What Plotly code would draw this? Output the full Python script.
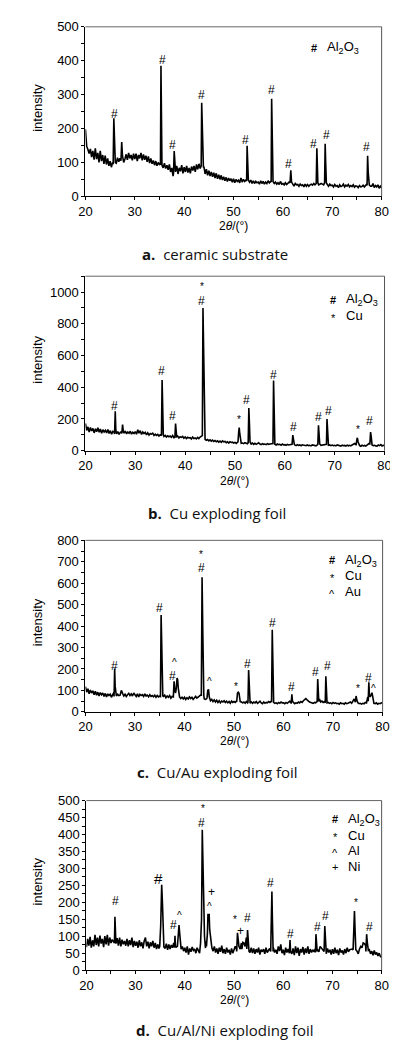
import numpy as np
import plotly.graph_objects as go

# ---------------- data ----------------
# background scans, 20..80 deg, equally spaced (0.25 deg)
BG_A = [198,148,138,126,140,116,134,108,
        142,110,128,100,134,104,122,96,
        120,94,112,90,104,86,100,110,
        106,98,114,102,112,104,122,100,
        110,124,108,128,112,122,106,126,
        110,126,104,122,112,128,106,124,
        108,120,102,118,98,112,96,106,
        92,104,90,100,94,88,96,84,
        98,82,92,78,94,72,84,60,
        88,72,90,66,84,74,92,68,
        86,72,90,70,84,68,88,76,
        90,72,94,80,96,82,90,84,
        88,66,80,62,76,60,72,58,
        70,54,68,52,64,50,62,48,
        58,46,56,44,54,46,52,42,
        52,40,50,44,48,40,54,42,
        50,44,48,40,46,42,48,38,
        46,38,44,40,42,36,46,38,
        44,36,42,38,46,40,44,36,
        44,38,42,36,40,35,44,36,
        38,34,40,35,38,42,40,36,
        36,30,38,34,35,30,36,32,
        34,28,36,30,35,30,34,36,
        33,38,34,40,40,34,36,38,
        36,34,38,40,35,30,36,32,
        33,28,35,30,32,26,34,29,
        31,36,28,33,30,35,28,32,
        29,34,27,31,30,26,32,28,
        29,33,28,32,36,40,34,30,
        30,38,26,32,28,34,24,30,
        25]

BG_B = [172,128,150,118,146,124,140,112,
        138,120,144,116,136,110,132,118,
        128,112,134,108,126,104,122,118,
        114,106,120,102,116,120,112,118,
        124,106,118,110,122,104,116,108,
        120,104,132,110,126,102,118,108,
        116,100,112,98,108,104,110,96,
        104,96,102,92,100,94,98,90,
        96,86,94,88,92,84,96,82,
        90,84,92,80,88,84,90,78,
        86,76,84,80,82,74,86,76,
        80,74,84,76,86,90,88,80,
        72,66,70,62,68,60,66,58,
        64,56,62,54,60,52,62,56,
        58,50,56,48,56,52,54,48,
        52,46,54,48,50,46,48,44,
        50,46,44,48,46,42,48,40,
        46,40,44,50,42,38,44,40,
        42,38,44,40,42,44,48,42,
        40,36,42,38,40,34,42,36,
        38,34,40,36,38,42,40,35,
        36,32,38,33,36,31,37,34,
        35,31,36,32,34,30,36,33,
        34,30,36,40,38,34,36,38,
        36,40,38,34,36,32,35,31,
        34,30,36,32,33,29,35,31,
        33,29,35,31,34,30,36,40,
        45,38,34,30,32,28,34,30,
        33,29,35,40,48,42,36,32,
        34,30,28,36,32,38,30,34,
        32]

BG_C = [118,92,108,84,102,88,98,80,
        96,78,92,74,90,80,88,72,
        86,70,84,76,82,68,80,90,
        84,74,82,76,78,100,86,74,
        82,72,80,86,76,84,74,88,
        80,72,84,70,82,76,80,72,
        84,74,78,70,80,72,76,70,
        78,68,76,70,74,72,82,72,
        78,66,74,68,76,64,72,70,
        74,68,72,66,70,62,68,60,
        68,58,66,60,70,62,68,58,
        66,72,64,70,74,78,70,66,
        60,58,62,78,60,52,58,48,
        56,46,54,44,52,42,50,46,
        52,44,50,42,48,40,50,44,
        48,44,50,62,58,48,46,42,
        46,40,48,42,44,40,46,40,
        46,42,48,40,44,50,42,38,
        46,40,44,42,48,44,50,46,
        44,40,42,38,44,40,46,42,
        42,38,44,40,46,50,42,40,
        44,38,42,40,46,42,48,44,
        52,58,62,56,50,46,44,42,
        40,44,42,48,56,60,46,50,
        44,48,42,38,44,40,42,38,
        44,40,42,38,40,36,42,38,
        40,36,42,38,40,44,46,40,
        52,60,50,44,42,38,40,36,
        40,38,44,42,70,74,60,48,
        44,40,38,42,36,40,38,42,
        40]

BG_D = [68,92,72,98,66,88,70,104,
        74,96,70,102,78,92,68,100,
        76,104,72,96,80,90,84,100,
        78,94,72,96,70,90,76,86,
        72,92,70,88,74,96,68,86,
        72,84,66,88,70,82,64,86,
        96,70,84,64,82,70,86,66,
        80,62,76,64,78,90,72,68,
        64,78,60,76,62,74,66,80,
        72,68,70,88,74,62,70,56,
        66,52,70,46,64,54,68,58,
        62,50,66,56,64,70,68,100,
        90,85,110,120,140,80,66,56,
        70,52,64,48,66,54,72,50,
        62,48,66,52,60,46,64,50,
        58,70,62,100,70,62,80,72,
        78,70,96,64,60,52,66,50,
        64,48,62,52,66,46,60,54,
        62,48,66,52,60,64,68,56,
        66,52,60,48,70,56,76,50,
        60,44,66,52,62,86,58,48,
        64,44,70,50,66,42,62,52,
        68,46,64,50,70,48,62,52,
        60,54,62,56,60,54,70,64,
        60,56,62,48,64,52,60,46,
        62,48,66,50,60,44,64,52,
        58,46,62,50,66,54,60,62,
        62,60,90,62,56,48,62,70,
        66,80,78,72,64,54,60,48,
        56,44,58,46,52,42,50,40,
        38]

# diffraction peaks: (2theta, intensity) profile points
PEAKS_A = [
    [(25.62,95),(25.75,230),(25.85,150),(25.95,110),(26.05,100)],
    [(27.20,105),(27.35,160),(27.50,120),(27.65,105)],
    [(35.20,95),(35.30,385),(35.42,110),(35.50,92)],
    [(37.85,70),(37.98,134),(38.10,90),(38.20,78)],
    [(43.45,90),(43.55,276),(43.68,205),(43.80,100),(43.90,85)],
    [(52.65,45),(52.75,149),(52.88,95),(53.00,48)],
    [(57.62,42),(57.72,288),(57.85,176),(57.97,45)],
    [(61.45,40),(61.60,77),(61.75,42)],
    [(66.75,38),(66.88,142),(66.98,80),(67.08,40)],
    [(68.45,40),(68.56,155),(68.68,94),(68.80,40)],
    [(77.05,32),(77.16,120),(77.28,72),(77.40,38)],
]
PEAKS_B = [
    [(25.85,105),(25.98,248),(26.10,130),(26.20,110)],
    [(27.30,108),(27.45,165),(27.60,120),(27.75,110)],
    [(35.25,95),(35.38,446),(35.50,210),(35.62,100)],
    [(37.95,85),(38.08,171),(38.20,110),(38.30,88)],
    [(43.45,95),(43.58,900),(43.70,634),(43.80,200),(43.92,90)],
    [(50.60,55),(50.75,120),(50.85,145),(50.95,110),(51.10,55)],
    [(52.65,50),(52.78,269),(52.90,170),(53.02,55)],
    [(57.62,45),(57.74,442),(57.86,269),(57.98,48)],
    [(61.45,40),(61.60,98),(61.75,60),(61.90,40)],
    [(66.62,40),(66.75,160),(66.88,120),(67.00,42)],
    [(68.35,40),(68.46,200),(68.58,95),(68.70,42)],
    [(74.30,38),(74.45,70),(74.55,81),(74.70,55),(74.85,38)],
    [(77.05,38),(77.20,117),(77.32,90),(77.45,45)],
]
PEAKS_C = [
    [(25.78,72),(25.90,202),(26.00,120),(26.10,80)],
    [(35.15,72),(35.28,452),(35.40,265),(35.52,120),(35.62,75)],
    [(37.75,70),(37.90,143),(38.05,100),(38.20,88),(38.35,110),(38.50,158),(38.62,150),(38.75,110),(38.90,80)],
    [(43.40,78),(43.55,628),(43.68,400),(43.78,150),(43.90,75)],
    [(44.55,65),(44.70,100),(44.85,105),(45.00,70)],
    [(50.55,50),(50.70,88),(50.85,92),(51.00,88),(51.15,60)],
    [(52.82,45),(52.95,195),(53.05,110),(53.15,48)],
    [(57.58,45),(57.72,383),(57.85,200),(57.98,45)],
    [(61.55,42),(61.68,82),(61.80,50)],
    [(66.78,45),(66.90,153),(67.02,100),(67.12,48)],
    [(68.42,42),(68.54,166),(68.66,95),(68.78,42)],
    [(74.50,45),(74.65,74),(74.80,55)],
    [(77.10,50),(77.22,138),(77.34,78),(77.50,70),(77.70,80),(77.85,89),(78.00,72),(78.20,50)],
]
PEAKS_D = [
    [(25.70,80),(25.80,157),(25.90,85)],
    [(34.90,70),(35.10,130),(35.30,252),(35.45,200),(35.60,90),(35.75,68)],
    [(37.90,66),(38.00,101),(38.10,72)],
    [(38.50,70),(38.70,115),(38.82,133),(38.95,110),(39.10,75)],
    [(43.00,50),(43.20,80),(43.40,150),(43.55,414),(43.70,300),(43.85,130),(44.00,100),(44.20,65)],
    [(44.40,70),(44.60,110),(44.70,164),(44.95,164),(45.05,120),(45.20,100),(45.40,75)],
    [(50.55,55),(50.70,110),(50.85,90),(51.00,70)],
    [(51.60,62),(51.80,82),(52.00,80),(52.20,72)],
    [(52.60,62),(52.75,118),(52.90,80),(53.05,55)],
    [(57.45,55),(57.60,150),(57.70,232),(57.80,150),(57.95,55)],
    [(61.25,50),(61.38,89),(61.50,55)],
    [(66.55,52),(66.65,106),(66.78,70),(66.90,55)],
    [(68.30,55),(68.45,130),(68.58,90),(68.72,55)],
    [(74.20,60),(74.35,140),(74.48,174),(74.60,120),(74.75,60)],
    [(76.80,55),(76.95,106),(77.10,80),(77.30,58)],
]

# phase labels above peaks: (symbol, 2theta, intensity)
LAB_A = [("#",25.8,244),("#",35.57,401),("#",37.6,151),("#",43.5,300),("#",52.4,167),
         ("#",57.7,314),("#",61.1,94),("#",66.15,154),("#",68.8,180),("#",77.0,147)]
LAB_B = [("#",25.86,281),("#",35.2,500),("#",37.5,219),("*",43.46,1036),("#",43.3,944),
         ("*",50.8,198),("#",52.3,319),("#",57.8,477),("#",61.7,152),("#",66.7,213),
         ("#",68.8,250),("*",74.6,131),("#",76.9,184)]
LAB_C = [("#",25.8,215),("#",35.0,483),("^",38.07,230),("#",37.6,166),("*",43.3,736),
         ("#",43.45,671),("^",44.95,141),("*",50.5,118),("#",52.7,222),("#",57.75,414),
         ("#",61.65,115),("#",66.4,188),("#",68.8,215),("*",75.0,107),("#",77.25,156),
         ("^",78.1,107)]
LAB_D = [("#",25.9,203),("#",34.7,271),("#",37.65,133),("^",38.96,162),("*",43.6,477),
         ("#",43.3,433),("+",45.35,230),("^",44.96,188),("*",50.2,150),("+",51.37,115),
         ("#",52.8,155),("#",57.45,257),("#",61.43,106),("#",66.9,126),("#",68.57,159),
         ("*",74.76,200),("#",77.5,126)]
BIG_LABEL = (3, 34.7)   # the one enlarged '#' in panel d

LEG_A = [("#", "Al<sub>2</sub>O<sub>3</sub>")]
LEG_B = [("#", "Al<sub>2</sub>O<sub>3</sub>"), ("*", "Cu")]
LEG_C = [("#", "Al<sub>2</sub>O<sub>3</sub>"), ("*", "Cu"), ("^", "Au")]
LEG_D = [("#", "Al<sub>2</sub>O<sub>3</sub>"), ("*", "Cu"), ("^", "Al"), ("+", "Ni")]

CAPTIONS = ["<b>a.</b>  ceramic substrate", "<b>b.</b>  Cu exploding foil",
            "<b>c.</b>  Cu/Au exploding foil", "<b>d.</b>  Cu/Al/Ni exploding foil"]
Y_MAX = [500, 1100, 800, 500]
Y_LABEL_STEP = [100, 200, 100, 50]
Y_MINOR_STEP = [50, 100, 50, 25]
X_TICKS = [20, 30, 40, 50, 60, 70, 80]

# ---------------- layout geometry (pixels in a 398x1046 page) ----------------
W, H = 398, 1046
PANELS = [  # (left, right, top, bottom)
    (73, 380, 12, 184),
    (73, 383, 265, 442),
    (73, 381, 533, 707),
    (74, 380, 797, 969),
]
XTITLE_Y = [214, 473, 737, 999]
CAPTION_Y = [242, 505, 768, 1030]
CAPTION_X = [207, 209, 210, 218]
LEG_X = [310, 330, 329, 332]
LEG_Y0 = [33, 289, 553, 816]
LEG_DY = 16

FONT = "Liberation Sans, Arial, sans-serif"


def build(bg, peaks):
    x = np.linspace(20, 80, len(bg))
    y = np.array(bg, dtype=float)
    keep = np.ones(len(x), dtype=bool)
    px, py = [], []
    for cl in peaks:
        lo, hi = cl[0][0], cl[-1][0]
        keep &= ~((x >= lo) & (x <= hi))
        px += [p[0] for p in cl]
        py += [p[1] for p in cl]
    X = np.concatenate([x[keep], np.array(px)])
    Y = np.concatenate([y[keep], np.array(py)])
    o = np.argsort(X)
    return X[o], Y[o]


fig = go.Figure()
annotations = []
shapes = []
BGS = [BG_A, BG_B, BG_C, BG_D]
PKS = [PEAKS_A, PEAKS_B, PEAKS_C, PEAKS_D]
LABS = [LAB_A, LAB_B, LAB_C, LAB_D]
LEGS = [LEG_A, LEG_B, LEG_C, LEG_D]

for i in range(4):
    n = "" if i == 0 else str(i + 1)
    xr, yr = "x" + n, "y" + n
    X, Y = build(BGS[i], PKS[i])
    fig.add_trace(go.Scatter(x=X, y=Y, mode="lines", xaxis=xr, yaxis=yr,
                             line=dict(color="black", width=1.6), showlegend=False,
                             hoverinfo="skip"))
    l, r, t, b = PANELS[i]
    fig.update_layout(**{
        "xaxis" + n: dict(domain=[l / W, r / W], range=[20, 80], anchor=yr,
                          tickvals=X_TICKS, ticks="outside", ticklen=3, tickwidth=1,
                          tickcolor="black", showline=True, linecolor="black", linewidth=1,
                          showgrid=False, zeroline=False,
                          tickfont=dict(family=FONT, size=13, color="black"),
                          minor=dict(dtick=5, tick0=20, ticks="outside", ticklen=3,
                                     tickcolor="black", showgrid=False)),
        "yaxis" + n: dict(domain=[1 - b / H, 1 - t / H], range=[0, Y_MAX[i]], anchor=xr,
                          dtick=Y_LABEL_STEP[i], tick0=0, ticks="outside", ticklen=3,
                          tickwidth=1, tickcolor="black", showline=True, linecolor="black",
                          linewidth=1, showgrid=False, zeroline=False,
                          tickfont=dict(family=FONT, size=13, color="black"),
                          minor=dict(dtick=Y_MINOR_STEP[i], tick0=0, ticks="outside",
                                     ticklen=3, tickcolor="black", showgrid=False)),
    })
    # top and right frame
    shapes.append(dict(type="line", xref=xr + " domain", yref=yr + " domain",
                       x0=0, x1=1, y0=1, y1=1, line=dict(color="#666666", width=1)))
    shapes.append(dict(type="line", xref=xr + " domain", yref=yr + " domain",
                       x0=1, x1=1, y0=0, y1=1, line=dict(color="#555555", width=1)))
    # peak labels
    for sym, lx, ly in LABS[i]:
        big = (i == BIG_LABEL[0] and lx == BIG_LABEL[1])
        small = sym in ("*", "^")
        size = 15 if big else (10 if small else 12)
        annotations.append(dict(text=sym, x=lx, y=ly, xref=xr, yref=yr, showarrow=False,
                                xanchor="center", yanchor="middle",
                                font=dict(family=FONT, size=size, color="black")))
    # legend
    for k, (sym, name) in enumerate(LEGS[i]):
        yy = 1 - (LEG_Y0[i] + k * LEG_DY) / H
        shift = -2 if sym in ("*", "^") else 0
        annotations.append(dict(text="<b>" + sym + "</b>" if sym == "#" else sym,
                                x=LEG_X[i] / W, y=yy, xref="paper", yref="paper",
                                showarrow=False, xanchor="center", yanchor="middle",
                                yshift=shift,
                                font=dict(family=FONT, size=11, color="black")))
        annotations.append(dict(text=name, x=(LEG_X[i] + 11) / W, y=yy, xref="paper",
                                yref="paper", showarrow=False, xanchor="left",
                                yanchor="middle",
                                font=dict(family=FONT, size=13, color="black")))
    # axis titles and caption
    annotations.append(dict(text="2<i>θ</i>/(°)", x=((l + r) / 2 + 0) / W,
                            y=1 - XTITLE_Y[i] / H, xref="paper", yref="paper",
                            showarrow=False, xanchor="center", yanchor="middle",
                            font=dict(family=FONT, size=12, color="black")))
    annotations.append(dict(text="intensity", x=23 / W, y=1 - ((t + b) / 2 - 4) / H,
                            xref="paper", yref="paper", showarrow=False, textangle=-90,
                            xanchor="center", yanchor="middle",
                            font=dict(family=FONT, size=13, color="black")))
    annotations.append(dict(text=CAPTIONS[i], x=CAPTION_X[i] / W, y=1 - CAPTION_Y[i] / H,
                            xref="paper", yref="paper", showarrow=False,
                            xanchor="center", yanchor="middle",
                            font=dict(family="Open Sans, DejaVu Sans, sans-serif", size=15,
                                      color="#111111")))

fig.update_layout(width=W, height=H, margin=dict(l=0, r=0, t=0, b=0),
                  paper_bgcolor="white", plot_bgcolor="white",
                  annotations=annotations, shapes=shapes, showlegend=False)

fig.write_html("out.html")
